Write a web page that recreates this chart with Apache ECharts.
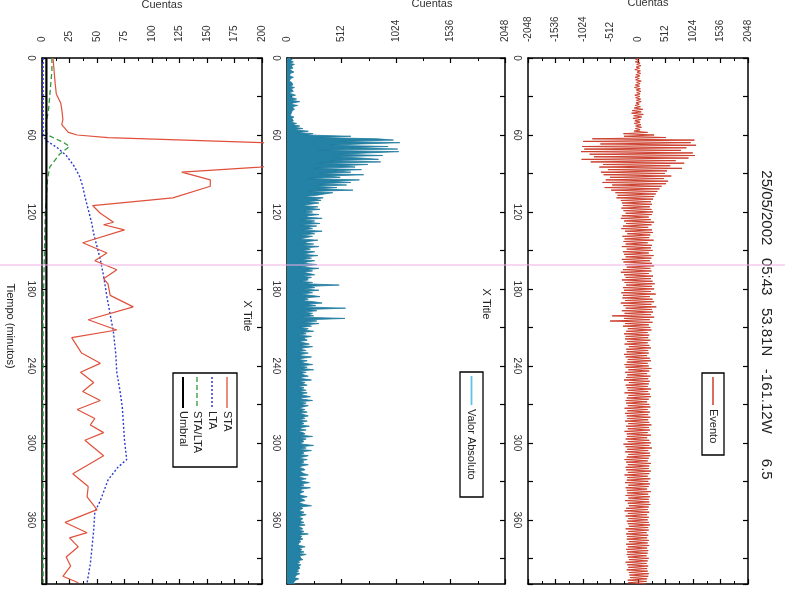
<!DOCTYPE html>
<html><head><meta charset="utf-8">
<script src="https://cdn.jsdelivr.net/npm/echarts@6/dist/echarts.min.js"></script>
<style>html,body{margin:0;padding:0;background:#fff}#c{width:785px;height:614px}</style>
</head><body><div id="c"></div>
<script>
const titleText = '25/05/2002   05:43   53.81N   -161.12W      6.5';
const countTitle = 'Cuentas';
const timeStep = 1; // minutes between waveform samples
const timeMax = 410;

// Evento (raw counts), one sample per minute, t = 0..410
const evento = [
  30,-45,20,-50,40,-25,55,-35,30,-60,45,-20,50,-40,35,-55,25,-45,60,-30,
  40,-50,30,-65,45,-35,55,-25,40,-60,35,-45,50,-30,60,-40,25,-55,45,-70,
  90,-110,60,-120,100,-80,70,-95,50,-60,40,-70,55,-45,65,-50,40,-75,180,-270,
  300,-260,520,-850,1050,-1020,980,-700,1080,-1040,900,-1000,800,-1060,1020,-900,1060,-820,940,-1050,
  700,-880,860,-650,600,-720,820,-560,540,-690,500,-640,620,-520,480,-600,560,-660,520,-480,
  440,-620,400,-500,360,-420,330,-380,300,-400,280,-320,240,-300,260,-280,220,-310,250,-270,
  280,-230,260,-300,200,-320,240,-260,300,-220,250,-280,190,-310,260,-240,280,-200,230,-290,
  210,-250,290,-270,180,-230,260,-300,240,-210,270,-280,200,-260,290,-230,250,-300,220,-270,
  260,-240,300,-210,230,-280,250,-320,200,-260,280,-230,240,-300,270,-250,310,-220,260,-280,
  300,-260,240,-310,330,-280,220,-290,270,-240,300,-320,250,-270,340,-230,260,-300,280,-250,
  240,-480,300,-260,220,-520,270,-240,200,-280,230,-190,250,-220,180,-260,210,-230,190,-240,
  230,-200,180,-250,210,-170,240,-220,190,-210,200,-260,170,-230,220,-190,240,-210,180,-250,
  200,-230,250,-180,210,-240,170,-200,230,-220,190,-260,220,-170,200,-230,180,-210,240,-190,
  190,-250,220,-180,240,-210,200,-230,170,-220,210,-190,230,-250,180,-200,220,-240,190,-210,
  230,-200,190,-240,210,-180,250,-220,200,-190,220,-250,180,-210,240,-200,170,-230,210,-190,
  240,-270,210,-230,260,-200,190,-240,220,-180,230,-210,200,-250,180,-220,240,-190,210,-230,
  200,-220,240,-190,210,-250,180,-200,230,-210,190,-240,220,-180,200,-230,170,-210,240,-200,
  190,-230,220,-180,200,-240,210,-190,230,-170,200,-220,180,-250,210,-190,170,-230,200,-180,
  180,-210,200,-190,220,-170,190,-230,200,-180,160,-220,190,-200,170,-210,200,-170,180,-220,
  210,-190,170,-220,190,-200,180,-210,160,-190,200,-170,180,-230,160,-200,190,-180,170,-210,
  180,-170,200,-160,190,-150,170,-190,160,-180,150
];

// Valor Absoluto, one sample per minute, t = 0..410
const valorAbsoluto = [
  20,50,30,60,25,70,40,30,55,20,45,65,30,40,25,60,35,50,20,45,
  30,55,25,70,40,35,60,20,45,80,30,50,90,40,120,60,35,100,50,40,
  70,50,60,40,55,30,65,45,35,60,40,90,50,120,70,150,60,200,100,245,
  180,600,300,850,1000,500,1060,700,400,950,600,1040,300,1050,750,500,900,450,700,860,
  400,880,300,760,500,640,250,700,450,600,300,720,380,500,200,680,420,600,300,560,
  250,470,300,620,200,430,350,280,150,340,260,320,180,300,220,140,290,200,310,160,
  240,150,300,200,180,330,140,260,200,310,120,280,190,240,150,330,200,260,130,240,
  180,120,290,200,160,250,130,300,180,220,140,260,200,150,290,170,230,130,260,190,
  150,280,200,130,300,180,240,150,210,260,140,230,180,200,130,240,170,490,210,260,
  150,300,180,240,130,220,310,160,200,140,250,330,180,270,150,550,200,280,160,240,
  200,250,140,545,200,280,150,300,180,230,120,200,160,250,140,180,110,230,150,140,
  190,110,160,210,120,240,150,130,180,100,200,140,120,230,150,110,190,130,170,240,
  120,190,140,250,110,180,130,160,200,120,150,230,110,170,140,190,100,160,130,180,
  110,190,130,160,220,120,150,240,110,180,130,200,150,110,170,130,190,120,160,200,
  140,170,110,190,130,160,120,210,140,120,180,100,150,170,130,240,110,180,140,160,
  120,150,250,130,180,110,230,140,160,120,200,150,110,190,130,160,120,200,140,110,
  150,170,120,140,160,200,110,130,180,120,150,210,130,160,110,220,140,120,160,130,
  110,140,190,120,150,170,110,130,160,230,120,150,140,110,160,120,180,130,110,150,
  140,120,160,110,170,100,130,150,110,160,120,200,110,140,120,150,110,130,140,100,
  120,170,110,140,120,160,100,180,120,110,130,150,100,120,90,130,110,100,120,90,
  110,80,120,90,100,70,110,80,90,60,80
];

// STA
const staTime = [0,10,20,28,35,40,48,52,56,58,60,62,64,66,70,80,85,89,95,100,109,115,121,128,130,134,144,152,158,165,172,176,185,194,204,212,218,230,238,245,253,260,267,274,281,286,292,298,310,316,324,334,342,352,362,370,374,381,389,396,404,409];
const staVal  = [10,11,12,13,17,18,19,18,22,24,32,60,130,200,260,260,198,127,153,153,119,46,53,65,56,75,37,59,48,68,56,60,62,83,42,68,27,36,53,35,47,37,53,32,48,44,56,39,56,44,28,42,41,50,21,41,25,33,22,26,19,33];
// LTA
const ltaTime = [0,58,62,65,70,76,84,92,100,108,118,128,137,147,157,170,186,200,214,230,245,260,272,298,313,319,329,345,354,368,394,409];
const ltaVal  = [1,1,2,5,14,22,29,34,37,39,42,45,47,50,53,56,59,62,65,67,68,71,73,75,77,69,60,53,48,47,44,41];
// STA/LTA
const ratioTime = [0,10,20,30,40,50,56,60,66,69,75,85,95,110,120,160,200,260,300,360,409];
const ratioVal  = [9,9,8,7,6,4,3,5,20,25,16,7,5,4,3,2,1,1,1,1,1];
// Umbral
const umbralTime = [0,410];
const umbralVal  = [4,4];

const legendSTA = ['STA','LTA','STA/LTA','Umbral'];

const FONT = '"Liberation Sans", Arial, sans-serif';
const pairs = (xs, ts) => xs.map((v, i) => [v, ts[i]]);
const evPairs = evento.map((v, i) => [v, i * timeStep]);
const absCats = valorAbsoluto.map((v, i) => String(i * timeStep));

function countAxis(grid, min, max, interval, pos, labels) {
  return {
    type: 'value', gridIndex: grid, position: pos, min: min, max: max, interval: interval,
    axisLine: {show: true, onZero: false, lineStyle: {color: '#000', width: 1.5}},
    axisTick: {show: true, inside: true, length: 5, lineStyle: {color: '#000', width: 1.2}},
    minorTick: {show: true, splitNumber: 2, length: 3, lineStyle: {color: '#000', width: 1}},
    axisLabel: {show: labels, rotate: -90, fontSize: 10, color: '#333', margin: 16, fontFamily: FONT,
      formatter: v => String(v)},
    splitLine: {show: false}
  };
}
function timeAxis(grid, pos, labels) {
  return {
    type: 'value', gridIndex: grid, position: pos, min: 0, max: timeMax, interval: 30, inverse: true,
    axisLine: {show: true, onZero: false, lineStyle: {color: '#000', width: 1.5}},
    axisTick: {show: true, inside: true, length: 5, lineStyle: {color: '#000', width: 1.2}},
    axisLabel: {show: labels, rotate: -90, fontSize: 10, color: '#333', margin: 6, fontFamily: FONT,
      formatter: v => (v % 60 === 0 ? String(v) : '')},
    splitLine: {show: false}
  };
}
function timeCatAxis(grid, pos, labels) {
  return {
    type: 'category', gridIndex: grid, position: pos, data: absCats, inverse: true, boundaryGap: false,
    axisLine: {show: true, onZero: false, lineStyle: {color: '#000', width: 1.5}},
    axisTick: {show: true, inside: true, length: 5, lineStyle: {color: '#000', width: 1.2},
      interval: (i, v) => Number(v) % 30 === 0},
    axisLabel: {show: labels, rotate: -90, fontSize: 10, color: '#333', margin: 6, fontFamily: FONT,
      interval: (i, v) => Number(v) % 60 === 0},
    splitLine: {show: false}
  };
}

function vtext(x, y, text, size, align) {
  return {type: 'text', x: x, y: y, rotation: -Math.PI / 2, z: 100,
    style: {text: text, fontSize: size, fontFamily: FONT, fill: '#222',
      textAlign: align || 'center', textVerticalAlign: 'middle'}};
}
function vline(x, y1, y2, color, width, dash) {
  return {type: 'line', z: 100, shape: {x1: x, y1: y1, x2: x, y2: y2},
    style: {stroke: color, lineWidth: width, lineDash: dash || null}};
}
function box(x, y, w, h) {
  return {type: 'rect', z: 99, shape: {x: x, y: y, width: w, height: h},
    style: {fill: '#fff', stroke: '#000', lineWidth: 1.3}};
}
function htext(x, y, text) {
  return {type: 'text', x: x, y: y, z: 100, style: {text: text, fontSize: 11, fontFamily: FONT,
    fill: '#333', textAlign: 'center', textVerticalAlign: 'middle'}};
}

const chart = echarts.init(document.getElementById('c'), null, {renderer: 'canvas'});
chart.setOption({
  animation: false,
  backgroundColor: '#fff',
  grid: [
    {left: 42, top: 58, width: 220, height: 526},
    {left: 287, top: 58, width: 218, height: 526},
    {left: 528, top: 58, width: 220, height: 526}
  ],
  xAxis: [
    countAxis(0, 0, 200, 25, 'top', true),
    countAxis(0, 0, 200, 25, 'bottom', false),
    countAxis(1, 0, 2048, 512, 'top', true),
    countAxis(1, 0, 2048, 512, 'bottom', false),
    countAxis(2, -2048, 2048, 512, 'top', true),
    countAxis(2, -2048, 2048, 512, 'bottom', false)
  ],
  yAxis: [
    timeAxis(0, 'left', true),
    timeAxis(0, 'right', false),
    timeCatAxis(1, 'left', true),
    timeCatAxis(1, 'right', false),
    timeAxis(2, 'left', true),
    timeAxis(2, 'right', false)
  ],
  series: [
    {type: 'line', name: 'Umbral', xAxisIndex: 0, yAxisIndex: 0, data: pairs(umbralVal, umbralTime),
      showSymbol: false, lineStyle: {color: '#000', width: 2.2}, z: 5},
    {type: 'line', name: 'LTA', xAxisIndex: 0, yAxisIndex: 0, data: pairs(ltaVal, ltaTime),
      showSymbol: false, lineStyle: {color: '#2a3ccc', width: 1.4, type: [2, 2]}},
    {type: 'line', name: 'STA/LTA', xAxisIndex: 0, yAxisIndex: 0, data: pairs(ratioVal, ratioTime),
      showSymbol: false, lineStyle: {color: '#2f9a3a', width: 1.3, type: [5, 3]}},
    {type: 'line', name: 'STA', xAxisIndex: 0, yAxisIndex: 0, data: pairs(staVal, staTime),
      showSymbol: false, lineStyle: {color: '#e0503a', width: 1.2}},
    {type: 'line', name: 'Valor Absoluto', xAxisIndex: 2, yAxisIndex: 2, data: valorAbsoluto,
      showSymbol: false, sampling: null, lineStyle: {color: '#1f7b9e', width: 0.8},
      areaStyle: {color: '#2482a6', opacity: 1}},
    {type: 'line', name: 'Evento', xAxisIndex: 4, yAxisIndex: 4, data: evPairs,
      showSymbol: false, lineStyle: {color: '#cc3f2d', width: 1}}
  ],
  graphic: [
    htext(162, 5, countTitle),
    htext(432, 4, countTitle),
    htext(648, 3, countTitle),
    vtext(766, 325, titleText, 15),
    vtext(247, 316, 'X Title', 11),
    vtext(486, 304, 'X Title', 11),
    vtext(10, 326, 'Tiempo (minutos)', 11),
    // Evento legend
    box(702, 373, 22, 82),
    vline(713, 377, 405, '#cc3f2d', 1.5),
    vtext(713, 409, 'Evento', 11, 'left'),
    // Valor Absoluto legend
    box(460, 372, 23, 125),
    vline(471.5, 376, 405, '#5cc4e6', 1.8),
    vtext(471.5, 409, 'Valor Absoluto', 11, 'left'),
    // STA legend
    box(173, 373, 64, 94),
    vline(227, 377, 408, '#e0503a', 1.3),
    vline(212, 377, 408, '#2a3ccc', 1.5, [2, 2]),
    vline(197, 377, 408, '#2f9a3a', 1.3, [5, 3]),
    vline(183, 377, 408, '#000', 2),
    vtext(227, 411, legendSTA[0], 11, 'left'),
    vtext(212, 411, legendSTA[1], 11, 'left'),
    vtext(197, 411, legendSTA[2], 11, 'left'),
    vtext(183, 411, legendSTA[3], 11, 'left'),
    // scan artifact line
    {type: 'line', z: 120, shape: {x1: 0, y1: 265, x2: 785, y2: 265}, style: {stroke: '#eeaee2', lineWidth: 1}}
  ]
});
</script></body></html>
